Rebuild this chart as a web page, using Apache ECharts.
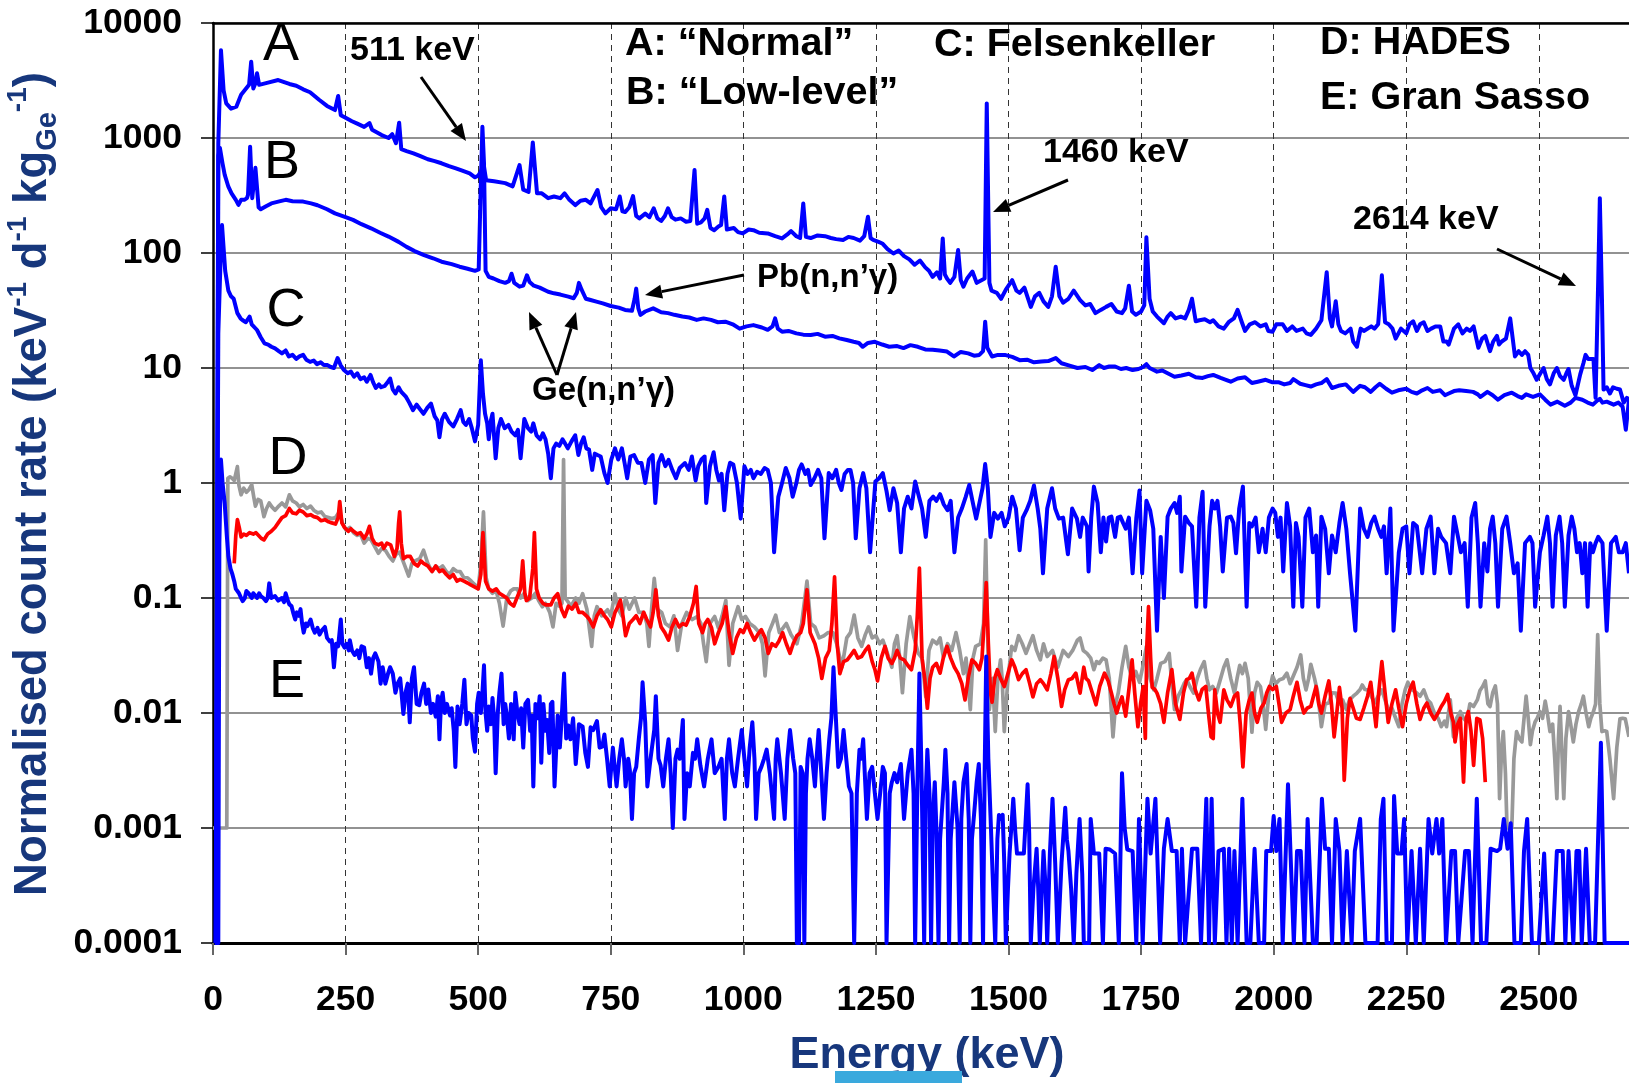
<!DOCTYPE html>
<html><head><meta charset="utf-8">
<script src="https://cdn.jsdelivr.net/npm/echarts@6/dist/echarts.min.js"></script>
<style>html,body{margin:0;padding:0;background:#fff}#c{width:1629px;height:1083px}</style>
</head><body><div id="c"></div>
<script>
// ---------- tick labels ----------
const yTickLabels = ['0.0001','0.001','0.01','0.1','1','10','100','1000','10000'];
const xTickStep = 250;

// ---------- spectra: [energy keV, count rate] ----------
const specA = [[5,0.0001],[10,900],[15,5800],[20,2600],[25,2000],[34,1800],[44,1870],[53,2380],[62,2680],[68,2900],[72,4600],[76,2700],[80,3000],[83,3650],[87,2900],[100,3000],[123,3190],[144,2950],[157,2850],[170,2650],[183,2500],[200,2150],[215,1900],[230,1750],[236,2320],[241,1580],[250,1500],[262,1400],[271,1340],[285,1250],[295,1350],[300,1180],[312,1100],[318,1060],[331,1000],[338,1080],[345,900],[351,1360],[355,800],[365,770],[378,736],[390,700],[405,653],[418,630],[431,603],[445,570],[458,545],[470,520],[484,493],[494,455],[500,470],[506,520],[510,600],[515,430],[530,420],[551,405],[565,380],[578,582],[585,355],[595,340],[603,916],[611,331],[620,330],[632,300],[643,310],[655,300],[663,330],[672,290],[683,261],[693,285],[703,290],[712,270],[725,353],[732,250],[740,221],[750,245],[760,240],[767,310],[772,230],[777,227],[785,250],[792,312],[798,210],[804,200],[815,220],[823,205],[831,245],[838,200],[845,190],[852,210],[858,245],[865,205],[872,195],[882,200],[892,187],[900,190],[908,527],[913,180],[920,185],[927,200],[932,237],[938,165],[945,158],[953,170],[958,175],[964,310],[969,160],[972,158],[982,165],[990,152],[999,148],[1010,160],[1019,158],[1030,150],[1046,148],[1060,140],[1073,134],[1083,145],[1090,155],[1100,140],[1107,135],[1113,270],[1118,138],[1127,135],[1140,142],[1154,140],[1165,135],[1175,132],[1188,130],[1198,138],[1208,135],[1220,128],[1228,140],[1235,207],[1240,135],[1245,130],[1255,125],[1262,121],[1272,108],[1283,99],[1293,105],[1303,94],[1313,88],[1323,79],[1333,86],[1343,75],[1350,70],[1357,62],[1365,68],[1371,60],[1376,134],[1380,65],[1384,60],[1390,55],[1398,62],[1405,106],[1410,58],[1415,51],[1422,60],[1432,69],[1440,55],[1449,58],[1455,60],[1459,2000],[1464,55],[1468,47],[1478,45],[1486,40],[1495,48],[1507,58],[1515,47],[1521,45],[1530,50],[1542,34],[1550,42],[1558,45],[1566,38],[1575,34],[1582,42],[1589,76],[1596,42],[1603,37],[1613,40],[1623,47],[1635,39],[1645,35],[1654,36],[1664,30],[1674,32],[1684,34],[1694,36],[1704,31],[1714,30],[1720,33],[1727,52],[1733,31],[1740,29],[1750,31],[1756,35],[1760,137],[1766,40],[1772,31],[1780,28],[1793,24.5],[1800,28],[1806,30],[1815,27],[1825,28],[1833,27],[1840,32],[1846,40],[1853,25.5],[1860,26],[1870,26.5],[1880,25],[1886,26],[1896,23],[1906,22],[1915,25],[1925,27],[1932,32],[1940,25],[1946,21],[1955,24],[1965,25],[1975,23],[1985,24],[1990,21],[1998,20.7],[2005,24],[2017,24],[2025,21],[2035,23],[2043,21],[2055,22],[2062,20],[2070,19.4],[2080,22],[2090,26],[2100,68],[2106,27],[2110,23],[2117,38],[2122,24],[2127,21],[2135,20],[2145,22],[2150,17],[2157,15.3],[2164,22],[2170,21],[2184,23],[2190,22],[2197,24],[2204,64],[2210,25],[2217,24],[2224,22],[2230,18],[2240,22],[2250,20],[2256,24],[2263,25.5],[2270,21],[2276,24],[2283,25],[2290,21],[2297,22],[2305,23],[2314,23],[2320,17],[2326,17],[2330,16],[2340,22],[2348,24],[2356,20],[2364,22],[2370,21],[2377,23],[2386,15],[2393,18],[2399,19],[2408,14],[2414,17],[2421,19],[2425,16],[2430,17],[2438,18],[2446,27],[2455,12.6],[2462,14],[2468,13],[2474,14],[2480,13],[2484,10],[2490,9],[2496,7.9],[2503,9],[2509,10],[2515,8],[2521,7.2],[2528,9],[2534,10],[2540,8.5],[2547,7.9],[2552,9],[2556,9.8],[2562,7],[2569,5.8],[2578,8.8],[2584,11],[2588,13],[2593,12],[2597,12],[2603,12],[2607,5.5],[2612,60],[2615,300],[2619,40],[2622,6.5],[2628,6.8],[2634,6],[2640,6.8],[2647,6.6],[2653,6.5],[2660,5],[2666,5.5],[2670,5.3]];

const specB = [[6,0.0001],[10,700],[13,820],[18,600],[22,480],[29,377],[35,330],[43,290],[48,262],[53,290],[59,290],[64,300],[66,320],[70,840],[74,300],[77,305],[80,550],[83,545],[86,250],[90,240],[100,255],[110,270],[125,281],[137,290],[150,282],[170,280],[185,270],[197,260],[215,240],[230,221],[250,205],[264,194],[280,178],[298,164],[315,150],[331,139],[350,125],[365,113],[380,104],[398,96],[415,90],[431,84],[450,80],[465,76],[480,73],[494,70],[501,72],[505,400],[508,1250],[511,600],[514,70],[520,62],[529,60],[540,57],[551,55],[558,57],[563,66],[568,55],[578,51],[585,52],[592,64],[597,56],[605,52],[616,50],[632,46],[643,44.6],[655,43.5],[670,41.7],[680,40.4],[686,45],[690,55],[695,48],[703,40],[712,39],[723,37.8],[735,36.5],[750,34.6],[765,33.5],[777,32],[790,31.5],[795,40],[798,49],[802,33],[806,29],[815,31],[830,33],[845,30.5],[858,30],[870,29],[885,28],[898,27.5],[912,26.2],[925,27],[939,26.2],[952,25],[966,25.3],[980,24],[993,22],[1006,23],[1019,23.6],[1035,22.5],[1046,21.5],[1055,23],[1060,27],[1065,22],[1073,20.7],[1085,21],[1100,20],[1113,19.5],[1127,19.4],[1140,19.8],[1154,18.7],[1168,19],[1181,18.1],[1195,17.5],[1208,16.9],[1218,16.5],[1225,15.3],[1235,16.5],[1248,16.9],[1262,16],[1275,15.3],[1290,15.5],[1302,14.9],[1315,15.8],[1329,15.3],[1343,14.5],[1357,14.4],[1370,14.2],[1384,13.9],[1397,12.6],[1410,13.8],[1424,13.4],[1435,12.8],[1445,13],[1452,14],[1456,25.3],[1460,15],[1469,12.6],[1480,13],[1493,13],[1507,12.5],[1521,11.7],[1535,11.8],[1548,11.2],[1562,11.4],[1575,11.5],[1589,12.2],[1600,11],[1615,10.5],[1630,10],[1645,10.2],[1658,9.6],[1671,10.6],[1680,10],[1690,10.3],[1701,10.3],[1712,9.8],[1722,10],[1734,9.6],[1745,9.8],[1754,10.2],[1760,10.8],[1766,10],[1780,9.3],[1790,9.5],[1800,9],[1813,8.4],[1826,8.6],[1840,8.9],[1853,8.3],[1866,8.2],[1876,8.5],[1886,8.7],[1900,8.2],[1910,7.9],[1919,7.6],[1932,8.1],[1946,8.3],[1959,7.4],[1970,7.6],[1985,7.9],[1998,7.5],[2010,7.5],[2020,7.2],[2031,7.4],[2037,8],[2050,7.3],[2060,7.1],[2070,6.9],[2080,7.2],[2090,7.4],[2100,8],[2110,6.7],[2122,7],[2136,7.2],[2150,6.2],[2163,7],[2172,6.8],[2183,6.2],[2192,6.8],[2200,7.3],[2212,6.6],[2223,6.1],[2235,6.4],[2250,6.6],[2260,6.2],[2270,6],[2280,6.4],[2290,6.7],[2300,6.2],[2314,6.4],[2323,5.8],[2330,6],[2340,6.3],[2350,6.4],[2363,6.3],[2376,6.2],[2385,5.9],[2390,5.6],[2403,6.2],[2413,5.8],[2423,5.3],[2435,5.8],[2449,6.1],[2460,5.7],[2468,5.5],[2476,5.9],[2489,5.6],[2502,5.9],[2512,5.3],[2522,4.8],[2535,5.1],[2549,4.7],[2560,5],[2569,5.5],[2582,5.3],[2592,5],[2602,4.8],[2610,5.2],[2615,5.4],[2620,5],[2628,5.1],[2641,4.8],[2650,5],[2658,4.6],[2664,2.9],[2670,5.3]];

const specC = [[5,0.0001],[10,20],[14,80],[17,175],[20,110],[23,70],[29,47],[34,42],[39,40],[46,30],[52,27],[56,26],[62,25],[69,28],[73,24],[76,24],[83,21.4],[90,18.5],[97,16.4],[104,16],[110,15.3],[117,14.8],[124,14],[130,13.4],[137,14.2],[143,12.6],[150,13],[157,12],[163,12.6],[170,13],[176,11.8],[183,11.3],[190,11.6],[196,10.8],[203,11.2],[209,10.6],[216,10.6],[222,10.2],[228,10],[235,12.2],[241,10.5],[247,9.6],[254,9],[260,9.3],[266,8.4],[272,9],[278,8],[285,8.3],[290,7.6],[297,8.7],[302,7.5],[307,6.7],[313,7.2],[317,6.8],[324,7],[330,7.6],[334,8.1],[339,6.5],[344,6],[350,6.8],[355,6.2],[364,5.6],[370,5],[377,4.3],[384,4.8],[390,4.4],[397,4],[404,4.5],[411,4.9],[418,3.8],[423,3.5],[427,2.5],[432,3.6],[437,4],[445,3.4],[453,3.1],[460,3.6],[467,4.3],[472,3.4],[477,3.2],[483,3.6],[488,3],[494,2.3],[500,3.2],[505,11.7],[509,6],[513,4],[517,3.3],[520,2.4],[524,3.5],[527,4],[533,1.64],[538,3],[543,3.6],[550,3],[557,3.2],[563,2.8],[570,2.6],[575,2.9],[580,1.64],[587,3.6],[594,3],[600,2.8],[604,3.3],[610,2.6],[617,2.4],[622,2.7],[627,2.4],[632,1.8],[637,1.1],[642,2],[647,2.2],[653,2.1],[659,2.4],[664,2.2],[669,2],[676,2.3],[683,2.6],[689,1.75],[694,2.2],[699,2.5],[704,2],[709,1.95],[715,1.3],[720,1.8],[725,1.75],[731,1.7],[738,1.22],[744,1],[751,1.6],[758,2],[764,1.6],[771,2],[776,1.5],[781,1.1],[787,1.7],[794,1.75],[801,1.5],[808,1.49],[815,1],[822,1.6],[829,1.75],[834,0.67],[840,1.5],[846,1.75],[853,1.4],[859,1.59],[866,1.3],[873,1.1],[880,1.35],[890,1.49],[897,1.3],[903,1.7],[910,1.05],[915,1.4],[921,1.6],[927,1.7],[930,0.67],[937,1.4],[944,1.85],[949,1.3],[954,1.05],[959,1.2],[964,0.58],[970,1.2],[975,1.5],[981,1.45],[988,1],[995,0.49],[1002,1.4],[1008,1.2],[1014,1.3],[1019,1.1],[1026,1.25],[1033,1.2],[1040,1.35],[1046,1.3],[1052,1],[1058,0.25],[1066,0.76],[1073,1],[1080,1.35],[1087,1.1],[1093,0.76],[1100,1],[1105,1.3],[1110,1.45],[1117,1.2],[1122,1.3],[1127,0.96],[1134,1.1],[1141,1.3],[1147,1.1],[1153,0.33],[1161,1.22],[1168,1.1],[1175,1.3],[1180,1],[1185,0.87],[1191,1.2],[1197,1.3],[1202,1.3],[1207,1],[1212,0.33],[1219,0.9],[1226,1.22],[1232,0.9],[1239,0.25],[1249,1.03],[1256,1.1],[1263,1.22],[1270,0.85],[1276,0.58],[1283,0.9],[1290,0.67],[1297,0.25],[1303,0.6],[1310,0.76],[1317,0.6],[1324,1.03],[1330,0.8],[1337,0.6],[1344,0.34],[1351,0.7],[1358,0.76],[1364,0.7],[1371,0.8],[1378,0.65],[1385,0.58],[1391,0.7],[1398,0.25],[1405,0.5],[1412,0.6],[1419,0.75],[1426,0.96],[1432,0.7],[1439,0.49],[1446,0.7],[1451,0.9],[1456,1.46],[1461,0.9],[1466,0.34],[1473,0.55],[1480,0.49],[1487,0.55],[1493,0.42],[1500,0.5],[1507,0.76],[1514,0.6],[1521,0.26],[1527,0.5],[1534,0.58],[1541,0.7],[1548,0.95],[1555,0.6],[1560,0.4],[1565,0.164],[1573,0.6],[1582,0.9],[1588,0.6],[1595,0.49],[1603,0.5],[1612,0.24],[1620,0.6],[1629,0.49],[1635,0.34],[1640,0.5],[1648,0.42],[1651,0.17],[1656,0.5],[1661,0.93],[1668,0.67],[1674,0.25],[1679,0.5],[1684,0.31],[1689,0.5],[1694,0.51],[1701,0.34],[1706,0.5],[1711,0.51],[1716,0.45],[1721,0.4],[1727,0.5],[1734,0.164],[1741,0.5],[1747,0.86],[1752,0.164],[1760,0.7],[1767,0.58],[1773,0.4],[1780,0.052],[1787,0.34],[1793,0.1],[1800,0.51],[1806,0.6],[1813,0.67],[1818,0.55],[1823,0.76],[1826,0.17],[1833,0.51],[1840,0.45],[1846,0.42],[1854,0.084],[1860,0.5],[1866,0.84],[1871,0.084],[1879,0.42],[1884,0.7],[1889,0.6],[1894,0.7],[1899,0.42],[1904,0.17],[1912,0.5],[1919,0.51],[1924,0.45],[1929,0.245],[1935,0.6],[1942,0.93],[1949,0.084],[1954,0.45],[1959,0.42],[1966,0.5],[1972,0.25],[1979,0.4],[1985,0.25],[1991,0.5],[1998,0.6],[2003,0.55],[2008,0.34],[2013,0.5],[2018,0.17],[2025,0.67],[2031,0.42],[2037,0.084],[2042,0.45],[2047,0.34],[2054,0.084],[2060,0.5],[2067,0.6],[2074,0.25],[2080,0.35],[2084,0.084],[2090,0.51],[2097,0.4],[2104,0.164],[2110,0.35],[2117,0.25],[2124,0.45],[2130,0.67],[2137,0.4],[2144,0.164],[2154,0.052],[2163,0.6],[2170,0.4],[2177,0.34],[2184,0.45],[2190,0.51],[2197,0.4],[2203,0.34],[2208,0.42],[2213,0.164],[2220,0.6],[2226,0.052],[2236,0.25],[2243,0.4],[2250,0.42],[2256,0.164],[2263,0.45],[2270,0.42],[2280,0.164],[2288,0.4],[2296,0.51],[2303,0.164],[2310,0.4],[2316,0.34],[2325,0.3],[2333,0.164],[2340,0.51],[2347,0.35],[2353,0.25],[2360,0.3],[2366,0.084],[2373,0.5],[2380,0.67],[2385,0.3],[2390,0.084],[2397,0.3],[2403,0.17],[2408,0.4],[2413,0.51],[2418,0.3],[2423,0.084],[2431,0.4],[2439,0.51],[2446,0.3],[2453,0.164],[2460,0.2],[2466,0.052],[2474,0.3],[2483,0.34],[2488,0.3],[2493,0.084],[2502,0.25],[2509,0.35],[2516,0.51],[2521,0.3],[2526,0.084],[2532,0.35],[2539,0.51],[2544,0.3],[2549,0.084],[2556,0.35],[2562,0.51],[2567,0.4],[2572,0.25],[2577,0.3],[2582,0.164],[2587,0.3],[2592,0.084],[2597,0.3],[2602,0.25],[2607,0.3],[2612,0.34],[2620,0.3],[2628,0.052],[2636,0.3],[2645,0.34],[2651,0.25],[2658,0.25],[2664,0.3],[2670,0.164]];

const specDgrey = [[0,0.001],[26,0.001],[28,1.1],[32,1.13],[36,1.1],[40,1.05],[46,1.39],[49,0.95],[53,0.79],[58,0.9],[63,0.83],[68,0.88],[73,0.97],[77,0.75],[80,0.63],[85,0.72],[90,0.7],[93,0.6],[96,0.51],[101,0.6],[106,0.67],[111,0.62],[117,0.58],[124,0.63],[130,0.67],[137,0.62],[144,0.79],[150,0.7],[157,0.67],[163,0.62],[170,0.65],[177,0.6],[184,0.63],[190,0.58],[197,0.55],[204,0.56],[211,0.51],[218,0.5],[224,0.49],[231,0.5],[238,0.56],[244,0.45],[251,0.39],[258,0.41],[265,0.37],[272,0.35],[278,0.36],[285,0.3],[292,0.33],[298,0.32],[305,0.28],[312,0.245],[318,0.27],[325,0.26],[332,0.23],[339,0.21],[345,0.24],[352,0.25],[360,0.2],[369,0.155],[375,0.2],[381,0.21],[390,0.22],[397,0.26],[405,0.2],[413,0.17],[420,0.19],[427,0.18],[433,0.19],[440,0.17],[446,0.16],[453,0.18],[460,0.17],[466,0.17],[473,0.15],[480,0.15],[487,0.14],[494,0.13],[500,0.12],[505,0.2],[510,0.56],[515,0.15],[520,0.12],[527,0.11],[534,0.115],[540,0.09],[547,0.057],[554,0.1],[561,0.115],[567,0.12],[574,0.12],[580,0.1],[587,0.11],[594,0.095],[601,0.1],[608,0.11],[614,0.095],[621,0.084],[627,0.09],[635,0.075],[641,0.056],[647,0.09],[653,0.085],[658,0.09],[661,1.6],[664,0.1],[667,0.096],[675,0.085],[684,0.1],[690,0.09],[697,0.109],[705,0.08],[714,0.038],[719,0.07],[724,0.084],[733,0.07],[744,0.079],[750,0.07],[758,0.109],[764,0.08],[771,0.07],[778,0.1],[785,0.08],[795,0.1],[803,0.075],[812,0.075],[818,0.06],[822,0.038],[827,0.08],[832,0.148],[838,0.08],[846,0.075],[853,0.06],[862,0.056],[869,0.07],[876,0.035],[884,0.06],[893,0.075],[903,0.065],[913,0.069],[920,0.06],[925,0.04],[930,0.028],[937,0.06],[946,0.069],[953,0.055],[960,0.07],[967,0.095],[973,0.026],[980,0.06],[990,0.084],[997,0.065],[1004,0.069],[1012,0.06],[1021,0.056],[1030,0.05],[1036,0.04],[1041,0.021],[1048,0.05],[1055,0.06],[1061,0.071],[1068,0.05],[1075,0.055],[1081,0.06],[1090,0.048],[1101,0.04],[1110,0.06],[1120,0.14],[1127,0.06],[1135,0.056],[1143,0.045],[1152,0.047],[1160,0.05],[1169,0.05],[1176,0.04],[1186,0.025],[1195,0.045],[1202,0.05],[1209,0.071],[1216,0.045],[1223,0.038],[1230,0.048],[1236,0.056],[1243,0.045],[1250,0.047],[1257,0.04],[1263,0.043],[1270,0.035],[1280,0.025],[1285,0.04],[1290,0.047],[1295,0.03],[1300,0.015],[1307,0.04],[1314,0.069],[1322,0.045],[1330,0.033],[1337,0.03],[1344,0.0138],[1350,0.035],[1357,0.043],[1365,0.04],[1371,0.045],[1377,0.031],[1385,0.04],[1393,0.035],[1401,0.05],[1408,0.035],[1415,0.022],[1420,0.03],[1428,0.0107],[1433,0.03],[1438,0.038],[1447,0.04],[1453,0.06],[1457,0.32],[1461,0.04],[1464,0.0107],[1470,0.02],[1475,0.0069],[1480,0.02],[1485,0.029],[1488,0.02],[1492,0.0069],[1499,0.02],[1506,0.038],[1512,0.035],[1519,0.047],[1526,0.04],[1533,0.033],[1540,0.04],[1546,0.047],[1553,0.035],[1560,0.029],[1566,0.04],[1573,0.031],[1583,0.035],[1593,0.025],[1603,0.035],[1613,0.031],[1621,0.035],[1630,0.043],[1635,0.045],[1641,0.035],[1648,0.033],[1655,0.03],[1661,0.0238],[1666,0.028],[1671,0.027],[1678,0.03],[1684,0.029],[1690,0.02],[1697,0.0062],[1702,0.012],[1707,0.015],[1714,0.025],[1721,0.038],[1727,0.025],[1734,0.0195],[1740,0.023],[1747,0.0185],[1753,0.025],[1760,0.038],[1767,0.02],[1774,0.0159],[1780,0.02],[1787,0.027],[1795,0.028],[1803,0.033],[1808,0.018],[1813,0.0107],[1820,0.014],[1826,0.0159],[1831,0.018],[1836,0.0195],[1842,0.017],[1849,0.0149],[1856,0.02],[1862,0.024],[1869,0.028],[1874,0.02],[1879,0.0159],[1885,0.017],[1892,0.0149],[1900,0.02],[1906,0.025],[1912,0.029],[1919,0.02],[1926,0.0149],[1931,0.02],[1936,0.026],[1941,0.022],[1946,0.027],[1952,0.02],[1959,0.0068],[1964,0.015],[1969,0.0185],[1975,0.017],[1980,0.012],[1985,0.0072],[1991,0.015],[1998,0.021],[2004,0.018],[2011,0.0195],[2018,0.02],[2025,0.0222],[2031,0.018],[2037,0.021],[2044,0.025],[2051,0.032],[2056,0.02],[2061,0.0159],[2066,0.02],[2070,0.0265],[2077,0.02],[2083,0.015],[2090,0.0076],[2097,0.012],[2104,0.0122],[2110,0.015],[2117,0.0149],[2124,0.012],[2130,0.013],[2137,0.0107],[2143,0.013],[2150,0.014],[2157,0.0149],[2163,0.016],[2167,0.0175],[2172,0.016],[2177,0.0159],[2184,0.014],[2190,0.0122],[2197,0.014],[2204,0.0159],[2210,0.013],[2216,0.0107],[2223,0.011],[2230,0.009],[2236,0.0076],[2242,0.012],[2248,0.016],[2253,0.0185],[2260,0.016],[2270,0.0149],[2276,0.014],[2283,0.0159],[2290,0.013],[2296,0.0122],[2303,0.01],[2310,0.009],[2316,0.0076],[2322,0.0085],[2326,0.0076],[2333,0.013],[2339,0.0062],[2345,0.009],[2352,0.0103],[2358,0.009],[2364,0.0084],[2370,0.012],[2377,0.0114],[2384,0.013],[2389,0.0157],[2394,0.017],[2399,0.019],[2404,0.012],[2408,0.0114],[2413,0.015],[2418,0.0172],[2422,0.012],[2426,0.0018],[2430,0.005],[2433,0.0069],[2437,0.003],[2440,0.001],[2449,0.001],[2453,0.004],[2458,0.0069],[2463,0.006],[2468,0.0056],[2476,0.014],[2480,0.009],[2484,0.0053],[2488,0.007],[2493,0.0084],[2497,0.009],[2502,0.0103],[2507,0.009],[2512,0.0127],[2516,0.01],[2521,0.0069],[2526,0.008],[2530,0.004],[2534,0.0018],[2537,0.006],[2540,0.0114],[2544,0.004],[2547,0.0018],[2551,0.006],[2556,0.0103],[2560,0.008],[2565,0.0056],[2570,0.008],[2575,0.0103],[2580,0.012],[2584,0.014],[2589,0.01],[2594,0.0076],[2598,0.009],[2603,0.0103],[2607,0.012],[2611,0.048],[2615,0.012],[2619,0.0069],[2624,0.007],[2628,0.0069],[2634,0.004],[2641,0.0018],[2647,0.005],[2653,0.0089],[2658,0.009],[2663,0.0089],[2670,0.0062]];

const specDred = [[40,0.2],[43,0.35],[46,0.48],[50,0.4],[53,0.34],[58,0.36],[63,0.35],[69,0.37],[76,0.36],[81,0.37],[86,0.35],[91,0.33],[96,0.32],[103,0.36],[110,0.38],[117,0.41],[123,0.45],[130,0.5],[137,0.52],[144,0.6],[150,0.55],[157,0.54],[163,0.58],[170,0.56],[177,0.52],[184,0.53],[190,0.51],[197,0.5],[204,0.47],[211,0.48],[218,0.46],[224,0.45],[231,0.44],[236,0.5],[239,0.69],[243,0.45],[248,0.41],[255,0.38],[260,0.4],[265,0.38],[272,0.36],[278,0.37],[285,0.33],[290,0.36],[295,0.42],[300,0.33],[305,0.3],[312,0.29],[318,0.3],[322,0.27],[328,0.3],[335,0.29],[342,0.23],[347,0.27],[350,0.45],[352,0.56],[355,0.3],[359,0.22],[365,0.23],[372,0.23],[379,0.2],[386,0.19],[392,0.21],[397,0.2],[405,0.19],[413,0.17],[420,0.19],[427,0.17],[433,0.175],[440,0.16],[446,0.15],[453,0.16],[460,0.14],[466,0.145],[473,0.14],[480,0.135],[486,0.13],[493,0.125],[500,0.12],[505,0.16],[509,0.37],[514,0.14],[520,0.12],[527,0.115],[534,0.12],[540,0.11],[547,0.105],[554,0.1],[560,0.09],[567,0.085],[573,0.1],[580,0.12],[584,0.21],[588,0.11],[591,0.095],[597,0.1],[603,0.18],[606,0.37],[610,0.12],[615,0.1],[622,0.09],[628,0.087],[637,0.087],[643,0.1],[650,0.109],[657,0.08],[663,0.069],[670,0.085],[677,0.08],[684,0.09],[690,0.075],[697,0.075],[704,0.07],[710,0.065],[717,0.056],[724,0.07],[731,0.079],[738,0.07],[744,0.065],[751,0.056],[758,0.075],[764,0.085],[768,0.096],[773,0.07],[778,0.047],[785,0.06],[792,0.065],[798,0.07],[805,0.06],[812,0.075],[818,0.065],[825,0.056],[830,0.075],[835,0.118],[840,0.07],[845,0.056],[852,0.05],[859,0.043],[865,0.055],[872,0.065],[879,0.056],[886,0.06],[892,0.058],[899,0.069],[906,0.09],[911,0.126],[916,0.06],[923,0.05],[928,0.06],[933,0.065],[940,0.055],[946,0.04],[953,0.05],[960,0.06],[967,0.084],[973,0.05],[980,0.033],[987,0.045],[994,0.053],[1000,0.05],[1007,0.06],[1014,0.05],[1021,0.043],[1027,0.048],[1034,0.053],[1041,0.045],[1047,0.033],[1054,0.04],[1061,0.038],[1067,0.042],[1074,0.05],[1081,0.04],[1088,0.033],[1094,0.04],[1101,0.047],[1108,0.05],[1113,0.06],[1120,0.118],[1126,0.05],[1135,0.04],[1142,0.03],[1148,0.02],[1155,0.03],[1162,0.035],[1167,0.06],[1172,0.153],[1177,0.04],[1182,0.022],[1189,0.028],[1196,0.029],[1203,0.032],[1209,0.035],[1216,0.03],[1223,0.031],[1230,0.035],[1236,0.038],[1243,0.028],[1248,0.024],[1253,0.019],[1260,0.03],[1267,0.038],[1273,0.03],[1280,0.027],[1285,0.03],[1290,0.035],[1296,0.03],[1303,0.029],[1310,0.026],[1317,0.0238],[1324,0.035],[1328,0.07],[1332,0.182],[1337,0.03],[1342,0.02],[1347,0.011],[1352,0.02],[1357,0.025],[1364,0.027],[1371,0.0222],[1377,0.03],[1384,0.038],[1391,0.03],[1398,0.025],[1405,0.022],[1412,0.018],[1418,0.013],[1424,0.02],[1431,0.029],[1438,0.027],[1445,0.0238],[1450,0.03],[1454,0.06],[1458,0.136],[1462,0.04],[1466,0.015],[1469,0.0124],[1474,0.02],[1479,0.0238],[1485,0.02],[1492,0.017],[1499,0.022],[1506,0.029],[1512,0.025],[1519,0.0195],[1526,0.022],[1533,0.0238],[1540,0.018],[1546,0.0138],[1553,0.018],[1560,0.0195],[1566,0.018],[1573,0.0159],[1580,0.022],[1586,0.031],[1593,0.02],[1600,0.0114],[1606,0.016],[1613,0.0195],[1620,0.02],[1627,0.0222],[1635,0.0149],[1642,0.025],[1646,0.02],[1651,0.019],[1658,0.015],[1665,0.0118],[1672,0.017],[1681,0.0222],[1688,0.019],[1694,0.0149],[1699,0.012],[1704,0.01],[1709,0.012],[1714,0.0138],[1718,0.011],[1721,0.0094],[1727,0.016],[1733,0.029],[1738,0.015],[1744,0.0076],[1749,0.012],[1754,0.017],[1758,0.006],[1761,0.04],[1764,0.084],[1768,0.03],[1771,0.0167],[1776,0.016],[1780,0.0149],[1787,0.012],[1793,0.0083],[1800,0.015],[1808,0.0238],[1815,0.012],[1823,0.0088],[1830,0.015],[1836,0.0195],[1841,0.02],[1846,0.0222],[1852,0.016],[1859,0.013],[1865,0.016],[1872,0.017],[1877,0.01],[1882,0.0062],[1886,0.006],[1889,0.0159],[1894,0.01],[1899,0.0083],[1906,0.0159],[1912,0.013],[1919,0.0114],[1926,0.014],[1932,0.0149],[1937,0.008],[1942,0.0034],[1948,0.01],[1954,0.013],[1959,0.0149],[1964,0.01],[1969,0.0083],[1976,0.011],[1982,0.0122],[1987,0.015],[1992,0.017],[1998,0.016],[2005,0.017],[2010,0.012],[2015,0.0083],[2023,0.01],[2031,0.0107],[2037,0.014],[2044,0.0185],[2050,0.013],[2057,0.01],[2063,0.011],[2070,0.0114],[2075,0.014],[2080,0.017],[2085,0.012],[2090,0.01],[2097,0.014],[2104,0.019],[2109,0.012],[2114,0.0062],[2119,0.01],[2124,0.0167],[2129,0.011],[2133,0.0026],[2139,0.009],[2144,0.0134],[2150,0.011],[2156,0.009],[2163,0.0088],[2170,0.011],[2177,0.014],[2183,0.0185],[2188,0.012],[2193,0.0076],[2198,0.015],[2204,0.028],[2210,0.015],[2216,0.0083],[2223,0.012],[2230,0.0159],[2236,0.011],[2243,0.0076],[2250,0.012],[2257,0.016],[2263,0.0185],[2270,0.012],[2276,0.0088],[2283,0.011],[2289,0.0122],[2296,0.01],[2303,0.0088],[2310,0.01],[2316,0.0114],[2322,0.0126],[2328,0.0145],[2334,0.01],[2339,0.0083],[2342,0.0056],[2347,0.008],[2352,0.009],[2358,0.0025],[2363,0.009],[2367,0.0103],[2372,0.007],[2377,0.0035],[2383,0.009],[2389,0.0087],[2394,0.006],[2399,0.0025]];

const specE = [[3,0.0001],[10,0.0001],[12,0.3],[15,1.6],[18,1],[22,0.67],[26,0.35],[29,0.23],[33,0.18],[36,0.164],[40,0.14],[43,0.12],[49,0.11],[53,0.1],[56,0.094],[60,0.1],[63,0.115],[67,0.11],[70,0.105],[73,0.1],[76,0.11],[80,0.105],[83,0.1],[87,0.11],[90,0.104],[95,0.1],[100,0.094],[103,0.1],[106,0.134],[110,0.1],[113,0.098],[117,0.104],[123,0.095],[130,0.1],[134,0.092],[137,0.11],[141,0.095],[144,0.088],[148,0.085],[151,0.075],[155,0.065],[158,0.075],[162,0.07],[165,0.08],[168,0.06],[171,0.05],[175,0.06],[178,0.057],[184,0.065],[188,0.055],[192,0.05],[197,0.055],[201,0.048],[205,0.052],[211,0.056],[215,0.045],[220,0.042],[224,0.043],[228,0.025],[232,0.04],[236,0.038],[241,0.065],[244,0.04],[248,0.037],[252,0.04],[256,0.035],[258,0.043],[262,0.035],[267,0.032],[272,0.035],[276,0.03],[280,0.038],[285,0.037],[290,0.025],[294,0.03],[298,0.022],[302,0.03],[306,0.033],[312,0.028],[316,0.018],[320,0.025],[325,0.018],[330,0.022],[334,0.025],[339,0.022],[344,0.015],[348,0.018],[353,0.02],[359,0.0098],[363,0.015],[367,0.018],[371,0.0083],[375,0.02],[379,0.025],[384,0.012],[389,0.0117],[393,0.015],[398,0.018],[402,0.012],[406,0.016],[411,0.01],[415,0.012],[420,0.0093],[424,0.014],[427,0.0059],[430,0.0125],[433,0.015],[437,0.01],[441,0.012],[447,0.0095],[450,0.011],[454,0.007],[457,0.0034],[461,0.0114],[465,0.008],[470,0.012],[474,0.0195],[478,0.008],[482,0.01],[487,0.0095],[490,0.006],[494,0.0046],[498,0.012],[501,0.015],[505,0.01],[508,0.015],[511,0.026],[514,0.01],[517,0.007],[520,0.0114],[524,0.008],[527,0.0135],[530,0.009],[533,0.003],[537,0.01],[540,0.015],[544,0.022],[548,0.008],[551,0.012],[554,0.0095],[558,0.006],[562,0.012],[567,0.0059],[570,0.015],[574,0.01],[578,0.008],[581,0.011],[585,0.005],[589,0.012],[594,0.013],[598,0.007],[601,0.0095],[604,0.0023],[608,0.012],[612,0.009],[616,0.014],[619,0.0037],[623,0.012],[627,0.007],[630,0.0087],[634,0.0045],[637,0.012],[640,0.0125],[644,0.0023],[647,0.0023],[650,0.0095],[654,0.005],[657,0.0083],[660,0.015],[662,0.022],[666,0.006],[670,0.0078],[674,0.0059],[679,0.009],[684,0.0036],[690,0.008],[697,0.0076],[702,0.0045],[707,0.0034],[712,0.0075],[717,0.0071],[724,0.0085],[729,0.005],[734,0.0051],[738,0.0065],[743,0.004],[748,0.0023],[754,0.005],[761,0.0023],[766,0.004],[771,0.0059],[775,0.004],[778,0.0023],[783,0.004],[786,0.0032],[790,0.0012],[794,0.003],[798,0.0034],[803,0.006],[807,0.009],[810,0.0185],[815,0.0083],[819,0.0023],[825,0.004],[832,0.0071],[835,0.014],[840,0.004],[844,0.0035],[849,0.0023],[854,0.004],[859,0.0059],[863,0.003],[867,0.001],[872,0.004],[876,0.0048],[880,0.004],[886,0.0087],[889,0.0012],[894,0.003],[899,0.0023],[905,0.0045],[909,0.004],[913,0.0059],[919,0.0035],[926,0.0023],[933,0.004],[940,0.0059],[946,0.003],[953,0.0034],[959,0.004],[965,0.0012],[969,0.004],[973,0.0059],[979,0.003],[984,0.0023],[990,0.004],[997,0.0071],[1002,0.004],[1007,0.0023],[1012,0.005],[1017,0.0083],[1021,0.004],[1024,0.0012],[1029,0.003],[1034,0.0034],[1039,0.004],[1044,0.0048],[1050,0.003],[1058,0.0012],[1061,0.004],[1064,0.0059],[1071,0.003],[1078,0.0012],[1083,0.004],[1088,0.0071],[1094,0.004],[1098,0.003],[1101,0.0001],[1105,0.0001],[1108,0.0034],[1112,0.003],[1115,0.0001],[1118,0.002],[1121,0.004],[1125,0.0059],[1130,0.004],[1135,0.0023],[1138,0.004],[1142,0.0071],[1147,0.003],[1152,0.0012],[1157,0.003],[1162,0.0059],[1166,0.009],[1170,0.025],[1174,0.01],[1179,0.0034],[1184,0.004],[1189,0.0071],[1194,0.004],[1199,0.0023],[1204,0.002],[1209,0.0001],[1214,0.002],[1219,0.0048],[1222,0.004],[1226,0.0059],[1233,0.0012],[1238,0.003],[1243,0.0034],[1248,0.002],[1253,0.0012],[1258,0.002],[1263,0.0034],[1267,0.003],[1270,0.0001],[1273,0.0001],[1276,0.002],[1280,0.0025],[1285,0.003],[1290,0.0025],[1297,0.0036],[1303,0.0012],[1310,0.003],[1317,0.0048],[1321,0.002],[1324,0.0001],[1328,0.002],[1332,0.022],[1336,0.003],[1341,0.0001],[1344,0.002],[1347,0.0048],[1351,0.002],[1354,0.0001],[1357,0.0012],[1361,0.0025],[1364,0.001],[1368,0.0001],[1371,0.0008],[1374,0.0013],[1378,0.0025],[1381,0.0048],[1385,0.002],[1388,0.0001],[1391,0.0008],[1394,0.0013],[1398,0.0025],[1401,0.0025],[1404,0.001],[1408,0.0001],[1411,0.0012],[1415,0.0025],[1418,0.003],[1421,0.0036],[1425,0.0012],[1428,0.0001],[1431,0.0008],[1435,0.0013],[1440,0.0025],[1444,0.0036],[1448,0.0012],[1452,0.0001],[1455,0.003],[1458,0.031],[1462,0.004],[1466,0.0013],[1470,0.0004],[1475,0.0001],[1479,0.0008],[1482,0.0013],[1486,0.0012],[1489,0.0013],[1492,0.0005],[1495,0.0001],[1499,0.0003],[1502,0.0006],[1509,0.0018],[1513,0.0009],[1516,0.0006],[1522,0.0006],[1529,0.0006],[1536,0.0024],[1539,0.0009],[1542,0.0001],[1547,0.0003],[1553,0.00066],[1556,0.0003],[1559,0.0001],[1563,0.0003],[1566,0.00063],[1570,0.0003],[1573,0.0001],[1578,0.0006],[1583,0.0018],[1588,0.0005],[1593,0.0001],[1600,0.0005],[1607,0.0015],[1610,0.0008],[1613,0.00063],[1618,0.0003],[1623,0.0001],[1628,0.0004],[1634,0.0012],[1639,0.0004],[1642,0.0001],[1652,0.0001],[1655,0.0012],[1661,0.0006],[1671,0.0006],[1678,0.0001],[1683,0.00066],[1691,0.00065],[1701,0.0006],[1708,0.0001],[1714,0.003],[1719,0.001],[1724,0.00065],[1734,0.00063],[1741,0.0001],[1746,0.0012],[1753,0.0001],[1762,0.0018],[1768,0.0006],[1777,0.0018],[1786,0.0001],[1793,0.00066],[1800,0.0012],[1808,0.00063],[1817,0.00063],[1823,0.0001],[1827,0.00066],[1833,0.0001],[1846,0.00066],[1856,0.00066],[1863,0.0001],[1873,0.0018],[1878,0.0001],[1883,0.0018],[1889,0.0001],[1896,0.00063],[1906,0.00066],[1911,0.0001],[1916,0.00066],[1921,0.0001],[1926,0.00063],[1932,0.0001],[1941,0.0018],[1949,0.0001],[1956,0.0001],[1964,0.00066],[1972,0.0001],[1982,0.0001],[1986,0.00063],[1995,0.00063],[2000,0.00127],[2005,0.00063],[2011,0.0012],[2017,0.0001],[2027,0.0024],[2038,0.0001],[2044,0.00063],[2051,0.00063],[2058,0.0001],[2064,0.0012],[2074,0.0001],[2081,0.0001],[2091,0.0018],[2097,0.00066],[2104,0.00066],[2110,0.0001],[2117,0.0012],[2124,0.00063],[2130,0.0001],[2138,0.00063],[2147,0.0001],[2153,0.00063],[2163,0.0012],[2173,0.0001],[2196,0.0001],[2202,0.0012],[2207,0.0018],[2213,0.0001],[2223,0.0001],[2227,0.0019],[2233,0.0006],[2241,0.0006],[2246,0.0012],[2252,0.0001],[2260,0.00063],[2268,0.0001],[2276,0.00066],[2283,0.0001],[2292,0.0012],[2299,0.0006],[2307,0.0012],[2312,0.0006],[2318,0.0012],[2325,0.0001],[2335,0.00063],[2342,0.00063],[2348,0.0001],[2361,0.00063],[2368,0.00063],[2375,0.0001],[2383,0.0018],[2391,0.0001],[2401,0.0001],[2409,0.00066],[2421,0.00063],[2427,0.00066],[2434,0.0012],[2441,0.00066],[2447,0.0011],[2454,0.0001],[2466,0.0001],[2472,0.00063],[2478,0.0012],[2487,0.0001],[2500,0.0001],[2510,0.0006],[2517,0.0001],[2526,0.0001],[2534,0.00063],[2545,0.00063],[2550,0.0001],[2556,0.00063],[2565,0.0001],[2571,0.00063],[2576,0.00063],[2581,0.0001],[2589,0.00066],[2596,0.0001],[2606,0.0001],[2617,0.0055],[2624,0.0001],[2670,0.0001]];

// ---------- texts ----------
const curveLetters = ['A','B','C','D','E'];
const legendLines = ['A: \u201cNormal\u201d','B: \u201cLow-level\u201d','C: Felsenkeller','D: HADES','E: Gran Sasso'];
const peakLabels = ['511 keV','1460 keV','2614 keV','Pb(n,n\u2019\u03b3)','Ge(n,n\u2019\u03b3)'];

const FONT = '"Liberation Sans", Arial, Helvetica, sans-serif';
const NAVY = '#17377c';

function txt(x, y, s, size, weight, align, color) {
  return { type: 'text', x: x, y: y, z: 100,
    style: { text: s, fontSize: size, fontWeight: weight, fontFamily: FONT,
      fill: color || '#000', align: align || 'left', verticalAlign: 'middle' } };
}
function arrow(x1, y1, x2, y2) {
  const a = Math.atan2(y2 - y1, x2 - x1), L = 17, W = 7;
  const bx = x2 - L * Math.cos(a), by = y2 - L * Math.sin(a);
  const px = -Math.sin(a) * W, py = Math.cos(a) * W;
  return [
    { type: 'line', z: 100, shape: { x1: x1, y1: y1, x2: bx, y2: by }, style: { stroke: '#000', lineWidth: 3 } },
    { type: 'polygon', z: 100, shape: { points: [[x2, y2], [bx + px, by + py], [bx - px, by - py]] }, style: { fill: '#000' } }
  ];
}

const graphics = [
  txt(281, 45, curveLetters[0], 54, 'normal', 'center'),
  txt(282, 163, curveLetters[1], 54, 'normal', 'center'),
  txt(286, 311, curveLetters[2], 54, 'normal', 'center'),
  txt(288, 459, curveLetters[3], 54, 'normal', 'center'),
  txt(287, 682, curveLetters[4], 54, 'normal', 'center'),
  txt(625, 44, legendLines[0], 39.5, 'bold'),
  txt(626, 93, legendLines[1], 39.5, 'bold'),
  txt(934, 45, legendLines[2], 39.5, 'bold'),
  txt(1320, 43, legendLines[3], 39.5, 'bold'),
  txt(1320, 98, legendLines[4], 39.5, 'bold'),
  txt(350, 51, peakLabels[0], 34, 'bold'),
  txt(1043, 153, peakLabels[1], 34, 'bold'),
  txt(1353, 220, peakLabels[2], 34, 'bold'),
  txt(757, 278, peakLabels[3], 33, 'bold'),
  txt(532, 391, peakLabels[4], 33, 'bold'),
  ...arrow(421, 77, 466, 141),
  ...arrow(1068, 180, 993, 212),
  ...arrow(1497, 249, 1576, 286),
  ...arrow(744, 275, 645, 295),
  ...arrow(557, 375, 529, 312),
  ...arrow(557, 375, 576, 312),
  // y-axis title (rotated, with super/subscripts)
  { type: 'text', x: 33, y: 484, rotation: Math.PI / 2, z: 100,
    style: {
      text: '{m|Normalised count rate (keV}{s|-1}{m| d}{s|-1}{m| kg}{b|Ge}{s|-1}{m|)}',
      align: 'center', verticalAlign: 'middle',
      rich: {
        m: { fontSize: 45.5, fontWeight: 'bold', fontFamily: FONT, fill: NAVY, lineHeight: 58, verticalAlign: 'middle' },
        s: { fontSize: 28, fontWeight: 'bold', fontFamily: FONT, fill: NAVY, lineHeight: 58, verticalAlign: 'top' },
        b: { fontSize: 29, fontWeight: 'bold', fontFamily: FONT, fill: NAVY, lineHeight: 58, verticalAlign: 'bottom' }
      } } },
  txt(927, 1056, 'Energy (keV)', 45, 'bold', 'center', NAVY),
  { type: 'rect', z: 110, shape: { x: 835, y: 1071, width: 127, height: 12 }, style: { fill: '#3aa9dd' } }
];

const lineSeries = (name, data, color, width) => ({
  name: name, type: 'line', data: data, showSymbol: false, symbol: 'none',
  clip: false, animation: false, silent: true,
  lineStyle: { color: color, width: width, join: 'round' }, itemStyle: { color: color }
});

const chart = echarts.init(document.getElementById('c'), null, { renderer: 'canvas' });
chart.setOption({
  backgroundColor: '#fff',
  animation: false,
  grid: { left: 213, top: 23, right: 0, bottom: 140, containLabel: false },
  xAxis: [{
    type: 'value', min: 0, max: 2670, interval: xTickStep,
    axisLine: { show: true, onZero: false, lineStyle: { color: '#000', width: 3 } },
    axisTick: { show: true, inside: false, length: 12, lineStyle: { color: '#666', width: 2 } },
    axisLabel: { margin: 39, fontSize: 35.5, fontWeight: 'bold', fontFamily: FONT, color: '#000',
      formatter: v => (v % xTickStep === 0 ? String(v) : ''), showMaxLabel: false },
    splitLine: { show: true, lineStyle: { color: '#333', width: 1, type: [6, 5] } }
  }, {
    type: 'value', position: 'top', min: 0, max: 2670,
    axisLine: { show: true, lineStyle: { color: '#000', width: 2.5 } },
    axisTick: { show: false }, axisLabel: { show: false }, splitLine: { show: false }
  }],
  yAxis: {
    type: 'log', logBase: 10, min: 0.0001, max: 10000, splitNumber: 8,
    axisLine: { show: true, onZero: false, lineStyle: { color: '#000', width: 2.5 } },
    axisTick: { show: true, inside: false, length: 12, lineStyle: { color: '#000', width: 1.5 } },
    axisLabel: { margin: 31, fontSize: 35.5, fontWeight: 'bold', fontFamily: FONT, color: '#000',
      formatter: v => yTickLabels[Math.round(Math.log10(v)) + 4] },
    splitLine: { show: true, lineStyle: { color: '#6e6e6e', width: 1.5 } },
    minorTick: { show: false }
  },
  series: [
    lineSeries('D grey', specDgrey, '#999999', 3.7),
    lineSeries('D red', specDred, '#ff0000', 3.7),
    lineSeries('E', specE, '#0000ff', 4),
    lineSeries('C', specC, '#0000ff', 4),
    lineSeries('B', specB, '#0000ff', 4),
    lineSeries('A', specA, '#0000ff', 4)
  ],
  graphic: graphics
});
</script>
</body></html>
